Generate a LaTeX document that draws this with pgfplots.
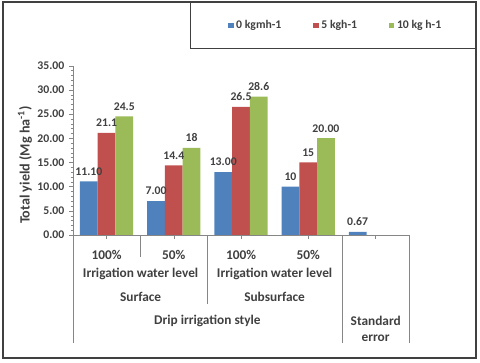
\documentclass[border=0pt]{standalone}
\usepackage{fontspec}
\setmainfont{Carlito}
\usepackage{pgfplots}
\pgfplotsset{compat=1.18}
\definecolor{txt}{HTML}{404040}
\definecolor{axgray}{HTML}{868686}
\definecolor{barblue}{HTML}{4F81BD}
\definecolor{barred}{HTML}{C0504D}
\definecolor{bargreen}{HTML}{9BBB59}
\begin{document}
\begin{tikzpicture}[font=\bfseries\fontsize{8.8}{10.5}\selectfont,text=txt]
\begin{axis}[
  scale only axis, width=252pt, height=127pt,
  xmin=-0.5, xmax=4.5, ymin=0, ymax=35,
  ybar=0pt, bar width=0.264,
  axis x line*=bottom, axis y line*=left,
  axis line style={draw=axgray,-},
  xtick={0,1,2,3,4}, xticklabels={100\%,50\%,100\%,50\%,{}},
  ytick={0,5,...,35}, minor y tick num=4,
  tick align=outside, major tick length=3pt, minor tick length=1.8pt,
  tick style={axgray},
  xticklabel style={anchor=center, yshift=-11.8pt, font=\bfseries\fontsize{10}{12}\selectfont},
  yticklabel style={/pgf/number format/.cd, fixed, fixed zerofill, precision=2, assume math mode=true},
  ylabel={Total yield (Mg ha\textsuperscript{-1})},
  ylabel style={at={(axis description cs:-0.143,0.413)}, anchor=center, font=\bfseries\fontsize{10.6}{12}\selectfont},
  point meta=explicit symbolic,
  nodes near coords,
  every node near coord/.append style={anchor=center, yshift=7.5pt},
  legend columns=3,
  legend style={draw=none, fill=none, at={(axis description cs:0.783,1.236)}, anchor=center,
    /tikz/every even column/.append style={column sep=22pt}},
  legend image code/.code={\fill[#1] (0pt,-2pt) rectangle (4pt,2pt);},
]
\addplot[fill=barblue, draw=none] coordinates {(0,11.10)[11.10] (1,7.00)[7.00] (2,13.00)[13.00] (3,10)[10] (4,0.67)[0.67]};
\addlegendentry{0 kgmh-1}
\addplot[fill=barred, draw=none] coordinates {(0,21.1)[21.1] (1,14.4)[14.4] (2,26.5)[26.5] (3,15)[15]};
\addlegendentry{5 kgh-1}
\addplot[fill=bargreen, draw=none] coordinates {(0,24.5)[24.5] (1,18)[18] (2,28.6)[28.6] (3,20.00)[20.00]};
\addlegendentry{10 kg h-1}
\end{axis}
\begin{scope}[x=0.75pt, y=0.75pt, font=\bfseries\fontsize{10}{12}\selectfont]
\path (-73,-128) rectangle (407,235);
% category separators
\draw[axgray] (0,0) -- (0,-108);
\draw[axgray] (67.2,0) -- (67.2,-22);
\draw[axgray] (134.4,0) -- (134.4,-69);
\draw[axgray] (268.8,0) -- (268.8,-108);
\draw[axgray] (336,0) -- (336,-108);
% group labels
\node at (67.6,-39) {Irrigation water level};
\node at (201.6,-39) {Irrigation water level};
\node at (67.6,-61.7) {Surface};
\node at (201.6,-61.7) {Subsurface};
\node at (134.4,-85.7) {Drip irrigation style};
\node[align=center] at (302.7,-94) {Standard\\error};
% legend box and frame
\draw[txt, line width=0.75pt] (117.7,232.5) -- (117.7,186.7) -- (403,186.7);
\draw[txt, line width=1.5pt] (-69.5,-123.3) rectangle (403,232.5);
\end{scope}
\end{tikzpicture}
\end{document}
